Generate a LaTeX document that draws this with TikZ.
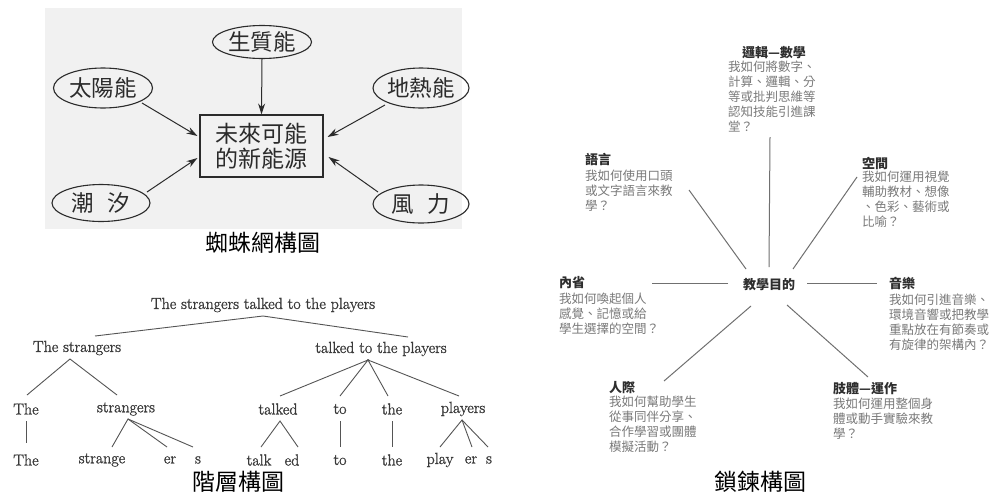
\documentclass[tikz,border=0pt]{standalone}
\usepackage{fontspec}
\newfontfamily\cjk{Noto Sans CJK TC}
\newfontfamily\treefont{Latin Modern Roman}[FakeBold=1.4]
\usetikzlibrary{shapes.geometric,arrows.meta,calc}
\definecolor{ink}{HTML}{2B2B2B}
\definecolor{bgspider}{HTML}{F1F1F1}
\definecolor{treeink}{HTML}{3A3A3A}
\definecolor{treeline}{HTML}{555555}
\definecolor{titleink}{HTML}{2E2E2E}
\definecolor{bodygrey}{HTML}{7A7A7A}
\definecolor{spoke}{HTML}{707070}
\begin{document}
\begin{tikzpicture}[x=1pt,y=-1pt,
  bub/.style={ellipse,draw=ink,line width=1.1pt,inner sep=0pt,font=\cjk\fontsize{22.5}{25}\selectfont,text=ink},
  hub/.style={rectangle,draw=ink,line width=1.1pt,inner sep=0pt,minimum width=123pt,minimum height=62pt,align=center,font=\cjk\fontsize{23}{25}\selectfont,text=ink},
  arr/.style={draw=ink,line width=1pt,-{Stealth[length=11pt,width=7pt]}},
  captxt/.style={inner sep=0pt,font=\cjk\fontsize{23}{25}\selectfont,text=black},
  tw/.style={inner sep=0pt,font=\treefont\fontsize{16}{18}\selectfont,text=treeink},
  tl/.style={draw=treeline,line width=0.9pt},
  ttl/.style={anchor=west,inner sep=0pt,font=\cjk\bfseries\fontsize{13}{15}\selectfont,text=titleink},
  body/.style={anchor=north west,inner sep=0pt,align=left,font=\cjk\fontsize{12.5}{15}\selectfont,text=bodygrey},
  sp/.style={draw=spoke,line width=1pt}
]
\useasboundingbox (0,0) rectangle (990,493);
\fill[white] (0,0) rectangle (990,493);

% ---------------- spider diagram ----------------
\fill[bgspider] (45,8) rectangle (462,229);
\node[hub] (box) at (261.5,146) {未來可能\\的新能源};
\node[bub,minimum width=99pt,minimum height=33pt] (bio) at (262,42) {生質能};
\node[bub,minimum width=99pt,minimum height=40pt] (sun) at (103,88) {太陽能};
\node[bub,minimum width=96pt,minimum height=40pt] (geo) at (421,88) {地熱能};
\node[bub,minimum width=98pt,minimum height=37pt] (tide) at (101,203) {潮\hspace{0.6em}汐};
\node[bub,minimum width=96pt,minimum height=38pt] (wind) at (421,204) {風\hspace{0.6em}力};
\draw[arr] ($(bio)+(0,17)$) -- (box.north);
\draw[arr] ($(sun)+(39,15)$) -- ($(box.west)+(-2,-10)$);
\draw[arr] ($(tide)+(46,-11)$) -- ($(box.west)+(-2,12)$);
\draw[arr] ($(geo)+(-36,17)$) -- ($(box.east)+(4,-9)$);
\draw[arr] ($(wind)+(-43,-12)$) -- ($(box.east)+(5,11)$);
\node[captxt] (cap1) at (263,243) {蜘蛛網構圖};

% ---------------- hierarchy tree ----------------
\node[tw] (root) at (263,305) {The strangers talked to the players};
\node[tw] (ts) at (77,348) {The strangers};
\node[tw] (tp) at (381,349) {talked to the players};
\node[tw] (a1) at (26,409) {The};
\node[tw] (a2) at (126,409) {strangers};
\node[tw] (a3) at (278,409) {talked};
\node[tw] (a4) at (340,409) {to};
\node[tw] (a5) at (392,409) {the};
\node[tw] (a6) at (463,409) {players};
\node[tw] (b1) at (26,460) {The};
\node[tw] (b2) at (102,460) {strange};
\node[tw] (b3) at (170,460) {er};
\node[tw] (b4) at (198,460) {s};
\node[tw] (b5) at (259,460) {talk};
\node[tw] (b6) at (292,460) {ed};
\node[tw] (b7) at (340,460) {to};
\node[tw] (b8) at (392,460) {the};
\node[tw] (b9) at (440,460) {play};
\node[tw] (b10) at (471,460) {er};
\node[tw] (b11) at (489,460) {s};
\draw[tl] ($(ts)+(18,-12)$) -- ($(root)+(0,11)$) -- ($(tp)+(27,-12)$);
\draw[tl] ($(a1)+(1,-14)$) -- ($(ts)+(-7,11)$) -- ($(a2)+(-9,-14)$);
\draw[tl] ($(a3)+(2,-13)$) -- ($(tp)+(-13,11)$) -- ($(a4)+(0,-13)$);
\draw[tl] ($(a5)+(-4,-13)$) -- ($(tp)+(-13,11)$) -- ($(a6)+(-4,-13)$);
\draw[tl] ($(a1)+(0,12)$) -- ($(b1)+(0,-17)$);
\draw[tl] ($(b2)+(10,-13)$) -- ($(a2)+(2,10)$) -- ($(b3)+(-3,-13)$);
\draw[tl] ($(a2)+(2,10)$) -- ($(b4)+(-5,-13)$);
\draw[tl] ($(b5)+(2,-13)$) -- ($(a3)+(2,12)$) -- ($(b6)+(6,-13)$);
\draw[tl] ($(a4)+(0,12)$) -- ($(b7)+(0,-13)$);
\draw[tl] ($(a5)+(0,12)$) -- ($(b8)+(0,-13)$);
\draw[tl] ($(b9)+(0,-13)$) -- ($(a6)+(-1,11)$) -- ($(b10)+(1,-13)$);
\draw[tl] ($(a6)+(-1,11)$) -- ($(b11)+(-1,-13)$);
\node[captxt] (cap2) at (238,482) {階層構圖};

% ---------------- chain diagram ----------------
\node[inner sep=0pt,font=\cjk\bfseries\fontsize{13}{15}\selectfont,text=titleink] (goal) at (769,285) {教學目的};

\node[inner sep=0pt,font=\cjk\bfseries\fontsize{13}{15}\selectfont,text=titleink] (t1) at (774,53) {邏輯—數學};
\node[body] (d1) at (728,61) {我如何將數字、\\計算、邏輯、分\\等或批判思維等\\認知技能引進課\\堂？};
\node[ttl] (t2) at (585,160) {語言};
\node[body] (d2) at (585,170) {我如何使用口頭\\或文字語言來教\\學？};
\node[ttl] (t3) at (862,163) {空間};
\node[body] (d3) at (862,171) {我如何運用視覺\\輔助教材、想像\\、色彩、藝術或\\比喻？};
\node[ttl] (t4) at (559,283) {內省};
\node[body] (d4) at (559,293) {我如何喚起個人\\感覺、記憶或給\\學生選擇的空間？};
\node[ttl] (t5) at (889,283) {音樂};
\node[body] (d5) at (889,294) {我如何引進音樂、\\環境音響或把教學\\重點放在有節奏或\\有旋律的架構內？};
\node[ttl] (t6) at (609,388) {人際};
\node[body] (d6) at (609,396) {我如何幫助學生\\從事同伴分享、\\合作學習或團體\\模擬活動？};
\node[ttl] (t7) at (833,389) {肢體—運作};
\node[body] (d7) at (833,398) {我如何運用整個身\\體或動手實驗來教\\學？};

\coordinate (eU) at (770,137);
\coordinate (eUL) at (689,190);
\coordinate (eUR) at (857,177);
\coordinate (eL) at (652,283);
\coordinate (eR) at (877,283);
\coordinate (eDL) at (664,381);
\coordinate (eDR) at (868,377);
\draw[sp] ($(goal)+(0,-18)$) -- (eU);
\draw[sp] ($(goal)+(-23,-16)$) -- (eUL);
\draw[sp] ($(goal)+(24,-16)$) -- (eUR);
\draw[sp] ($(goal)+(-41,-2)$) -- (eL);
\draw[sp] ($(goal)+(38,-2)$) -- (eR);
\draw[sp] ($(goal)+(-18,21)$) -- (eDL);
\draw[sp] ($(goal)+(18,20)$) -- (eDR);
\node[captxt] (cap3) at (760,482) {鎖鍊構圖};
\end{tikzpicture}
\end{document}
